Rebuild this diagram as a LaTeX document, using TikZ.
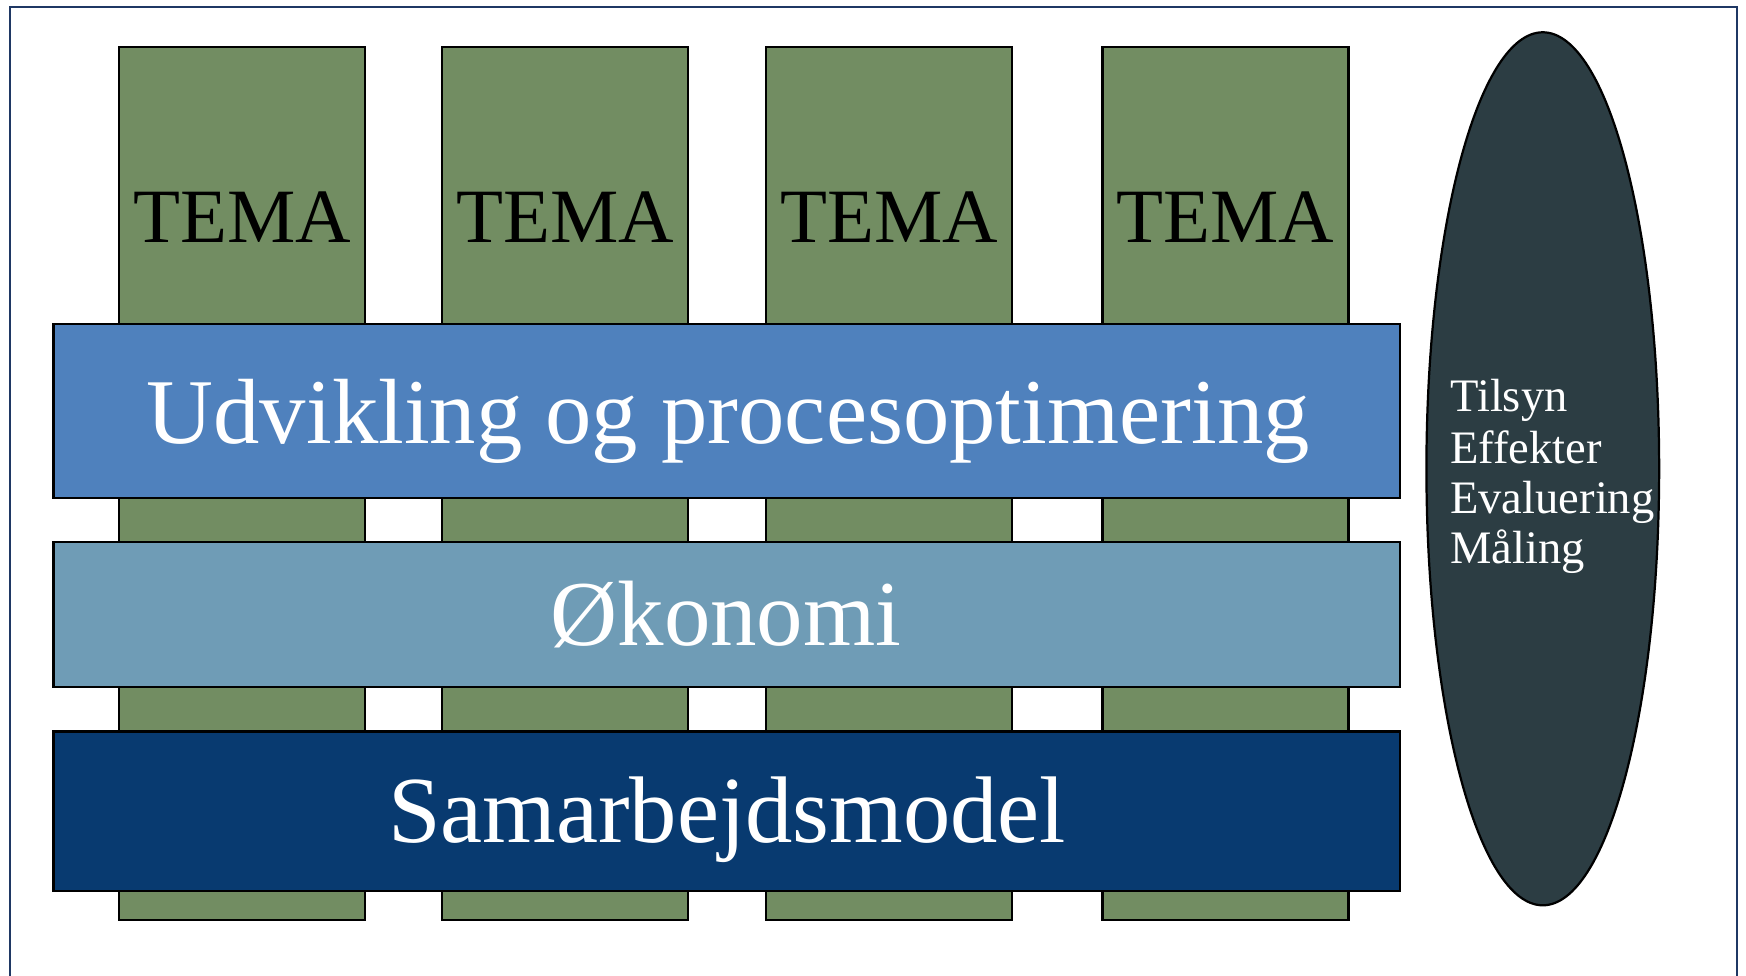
\documentclass[tikz,border=0pt]{standalone}
\usepackage{fontspec}
\setmainfont{Liberation Serif}
\usetikzlibrary{shapes.geometric}
\definecolor{temagreen}{RGB}{114,141,98}
\definecolor{barone}{RGB}{79,129,189}
\definecolor{bartwo}{RGB}{111,156,182}
\definecolor{barthree}{RGB}{8,58,112}
\definecolor{ellfill}{RGB}{44,61,67}
\definecolor{framecol}{RGB}{31,56,100}
\tikzset{
  column/.style={draw=black, line width=1pt, fill=temagreen, rectangle, inner sep=0pt,
    minimum width=110.5pt, minimum height=392pt},
  bar/.style={draw=black, line width=1pt, rectangle, inner sep=0pt, minimum width=604.5pt},
  temalabel/.style={anchor=base, font=\fontsize{34.5pt}{40pt}\selectfont, text=black, inner sep=0pt},
  barlabel/.style={anchor=base, text=white, inner sep=0pt},
  elllabel/.style={anchor=base west, font=\fontsize{20.9pt}{22.5pt}\selectfont, text=white, inner sep=0pt}
}
\begin{document}
\begin{tikzpicture}[x=0.5pt,y=-0.5pt]
\useasboundingbox (0,0) rectangle (1568,876);
\clip (0,0) rectangle (1568,876);
\draw[framecol, line width=1pt] (9,6) rectangle (1560,920);
% columns
\node[column] (c1) at (217.5,434) {};
\node[column] (c2) at (507.5,434) {};
\node[column] (c3) at (798.5,434) {};
\node[column] (c4) at (1100.5,434) {};
\node[temalabel] (l1) at (217.5,218) {TEMA};
\node[temalabel] (l2) at (507.5,218) {TEMA};
\node[temalabel] (l3) at (798.5,218) {TEMA};
\node[temalabel] (l4) at (1100.5,218) {TEMA};
% bars
\node[bar, fill=barone, minimum height=78pt] (b1) at (652.5,369) {};
\node[bar, fill=bartwo, minimum height=65pt] (b2) at (652.5,552) {};
\node[bar, fill=barthree, minimum height=71.5pt] (b3) at (652.5,728.5) {};
\node[barlabel, font=\fontsize{41.6pt}{48pt}\selectfont] (t1) at (654,398) {Udvikling og procesoptimering};
\node[barlabel, font=\fontsize{41.7pt}{48pt}\selectfont] (t2) at (652,580) {Økonomi};
\node[barlabel, font=\fontsize{42.5pt}{48pt}\selectfont] (t3) at (653,757) {Samarbejdsmodel};
% ellipse
\node[ellipse, draw=black, line width=1pt, fill=ellfill, inner sep=0pt,
  minimum width=104.5pt, minimum height=392pt] (e) at (1385.5,421) {};
\node[elllabel] (e1) at (1302,370) {Tilsyn};
\node[elllabel] (e2) at (1302,416) {Effekter};
\node[elllabel] (e3) at (1302,461) {Evaluering};
\node[elllabel] (e4) at (1302,506) {Måling};
\end{tikzpicture}
\end{document}
